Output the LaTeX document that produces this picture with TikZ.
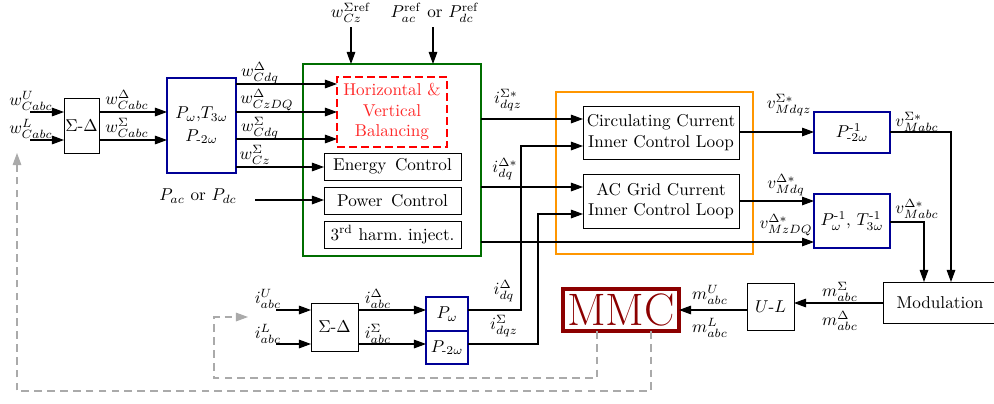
\documentclass[tikz,border=0pt]{standalone}
\usepackage{amsmath}
\usetikzlibrary{arrows.meta,calc}
\definecolor{dblue}{RGB}{0,0,150}
\definecolor{dgreen}{RGB}{0,110,0}
\definecolor{orng}{RGB}{255,150,0}
\definecolor{mmcred}{RGB}{140,0,0}
\definecolor{fgray}{RGB}{170,170,170}
\definecolor{hvred}{RGB}{255,40,40}
\newcommand\pxu{0.583}
\newcommand\rbox[7]{%
  \pgfmathsetmacro\cx{(#2+#4)/2}\pgfmathsetmacro\cy{(#3+#5)/2}%
  \pgfmathsetmacro\ww{(#4-#2)*\pxu}\pgfmathsetmacro\hh{(#5-#3)*\pxu}%
  \node[#6, minimum width=\ww pt, minimum height=\hh pt, inner sep=0pt, outer sep=0pt] (#1) at (\cx,\cy) {#7};}
\begin{document}
\begin{tikzpicture}[x=\pxu pt,y=-\pxu pt,
  box/.style={draw, line width=0.55pt},
  bluebox/.style={draw=dblue, line width=1.2pt},
  arr/.style={-{Triangle[length=7pt,width=5pt]}, line width=0.6pt},
  fb/.style={fgray, line width=0.6pt, dash pattern=on 4.5pt off 3pt},
  lbl/.style={inner sep=0pt}]
\useasboundingbox (0,0) rectangle (994,403);

% ---- upper left
\rbox{sd1}{64}{98}{99}{153}{box}{$\Sigma$-$\Delta$}
\coordinate (wu) at (30,112);
\coordinate (wl) at (30,140);
\node[lbl] at (31,101) {$w_{Cabc}^{U}$};
\node[lbl] at (31,129) {$w_{Cabc}^{L}$};
\draw[arr] (wu) -- (sd1.west |- wu);
\draw[arr] (wl) -- (sd1.west |- wl);

\rbox{pb}{167}{78}{236}{173}{bluebox, align=center}{$P_\omega$,$T_{3\omega}$\\[1pt]$P_{\text{-}2\omega}$}
\draw[arr] (sd1.east |- 0,112) -- (pb.west |- 0,112);
\draw[arr] (sd1.east |- 0,140) -- (pb.west |- 0,140);
\node[lbl] at (127,100) {$w_{Cabc}^{\Delta}$};
\node[lbl] at (127,128) {$w_{Cabc}^{\Sigma}$};

% ---- green block
\rbox{gb}{303}{64}{481}{256}{draw=dgreen, line width=1.1pt}{}
\rbox{hv}{337}{77}{447}{147}{draw=red, line width=1.6pt, dash pattern=on 4.5pt off 2.5pt, text=hvred, align=center}{Horizontal \&\\Vertical\\Balancing}
\rbox{ec}{324}{153}{461}{180}{box}{Energy\enspace Control}
\rbox{pc}{324}{187}{461}{214}{box}{Power\enspace Control}
\rbox{th}{324}{221}{461}{248}{box}{3\textsuperscript{rd} harm.\ inject.}

\draw[arr] (pb.east |- 0,84) -- (hv.west |- 0,84);
\draw[arr] (pb.east |- 0,112) -- (hv.west |- 0,112);
\draw[arr] (pb.east |- 0,139) -- (hv.west |- 0,139);
\draw[arr] (pb.east |- 0,167) -- (ec.west |- 0,167);
\node[lbl] at (260,73) {$w_{Cdq}^{\Delta}$};
\node[lbl] at (267,100) {$w_{CzDQ}^{\Delta}$};
\node[lbl] at (260,128) {$w_{Cdq}^{\Sigma}$};
\node[lbl] at (255,155) {$w_{Cz}^{\Sigma}$};

\coordinate (pin) at (255,200);
\node[lbl] at (198,196) {$P_{ac}$ or $P_{dc}$};
\draw[arr] (pin) -- (pc.west |- pin);

\coordinate (t1) at (351,27);
\coordinate (t2) at (433,27);
\node[lbl] at (351,13) {$w_{Cz}^{\Sigma\mathrm{ref}}$};
\node[lbl] at (435,13) {$P_{ac}^{\mathrm{ref}}$ or $P_{dc}^{\mathrm{ref}}$};
\draw[arr] (t1) -- (t1 |- gb.north);
\draw[arr] (t2) -- (t2 |- gb.north);

% ---- orange block
\rbox{ob}{556}{92}{753}{254}{draw=orng, line width=1.3pt}{}
\rbox{cc}{583}{106}{739}{159}{box, align=center}{Circulating Current\\Inner Control Loop}
\rbox{ac}{583}{174}{739}{228}{box, align=center}{AC Grid Current\\Inner Control Loop}

\draw[arr] (gb.east |- 0,119) -- (cc.west |- 0,119);
\draw[arr] (gb.east |- 0,187) -- (ac.west |- 0,187);
\node[lbl] at (508,100) {$i_{dqz}^{\Sigma *}$};
\node[lbl] at (505,169) {$i_{dq}^{\Delta *}$};

% ---- inverse transforms
\rbox{pi1}{814}{112}{890}{153}{bluebox}{$P^{\text{-}1}_{\text{-}2\omega}$}
\rbox{pi2}{814}{194}{890}{248}{bluebox}{$P^{\text{-}1}_{\omega}$, $T^{\text{-}1}_{3\omega}$}
\draw[arr] (cc.east |- 0,132) -- (pi1.west |- 0,132);
\draw[arr] (ac.east |- 0,201) -- (pi2.west |- 0,201);
\draw[arr] (gb.east |- 0,242) -- (pi2.west |- 0,242);
\node[lbl] at (789,105) {$v_{Mdqz}^{\Sigma *}$};
\node[lbl] at (786,185) {$v_{Mdq}^{\Delta *}$};
\node[lbl] at (786,225) {$v_{MzDQ}^{\Delta *}$};

\rbox{mod}{883}{282}{997}{323}{box}{Modulation}
\draw[arr] (pi1.east |- 0,132) -| (mod.north -| 951,0);
\draw[arr] (pi2.east |- 0,222) -| (mod.north -| 924,0);
\node[lbl] at (917,122) {$v_{Mabc}^{\Sigma *}$};
\node[lbl] at (917,209) {$v_{Mabc}^{\Delta *}$};

% ---- bottom right
\rbox{ul}{747}{283}{794}{330}{box}{$U$-$L$}
\rbox{mmc}{563}{289}{679}{331}{draw=mmcred, line width=2pt, text=mmcred, font=\fontsize{26.5}{26.5}\selectfont}{MMC}
\draw[arr] (mod.west |- 0,303) -- (ul.east |- 0,303);
\draw[arr] (ul.west |- 0,310) -- (mmc.east |- 0,310);
\node[lbl] at (840,292) {$m_{abc}^{\Sigma}$};
\node[lbl] at (840,321) {$m_{abc}^{\Delta}$};
\node[lbl] at (710,295) {$m_{abc}^{U}$};
\node[lbl] at (710,328) {$m_{abc}^{L}$};

% ---- bottom left
\rbox{sd2}{311}{303}{358}{351}{box}{$\Sigma$-$\Delta$}
\rbox{pw}{426}{297}{468}{331}{bluebox}{$P_{\omega}$}
\rbox{p2w}{426}{331}{468}{364}{bluebox}{$P_{\text{-}2\omega}$}
\coordinate (iu) at (276,310);
\coordinate (il) at (276,344);
\node[lbl] at (268,299) {$i_{abc}^{U}$};
\node[lbl] at (268,334) {$i_{abc}^{L}$};
\draw[arr] (iu) -- (sd2.west |- iu);
\draw[arr] (il) -- (sd2.west |- il);
\draw[arr] (sd2.east |- 0,310) -- (pw.west |- 0,310);
\draw[arr] (sd2.east |- 0,344) -- (p2w.west |- 0,344);
\node[lbl] at (378,299) {$i_{abc}^{\Delta}$};
\node[lbl] at (378,334) {$i_{abc}^{\Sigma}$};

\coordinate (v1) at (521,146);
\coordinate (v2) at (538,214);
\draw[arr] (pw.east |- 0,310) -| (v1) -- (cc.west |- v1);
\draw[arr] (p2w.east |- 0,344) -| (v2) -- (ac.west |- v2);
\node[lbl] at (504,291) {$i_{dq}^{\Delta}$};
\node[lbl] at (504,326) {$i_{dqz}^{\Sigma}$};

% ---- feedback (dashed)
\coordinate (f1) at (248,317);
\coordinate (f2) at (17,153);
\draw[fb, -{Triangle[length=7pt,width=5pt]}] (mmc.south -| 597,0) |- (214,378) |- (f1);
\draw[fb, -{Triangle[length=7pt,width=5pt]}] (mmc.south -| 651,0) |- (17,391) -- (f2);
\end{tikzpicture}
\end{document}
